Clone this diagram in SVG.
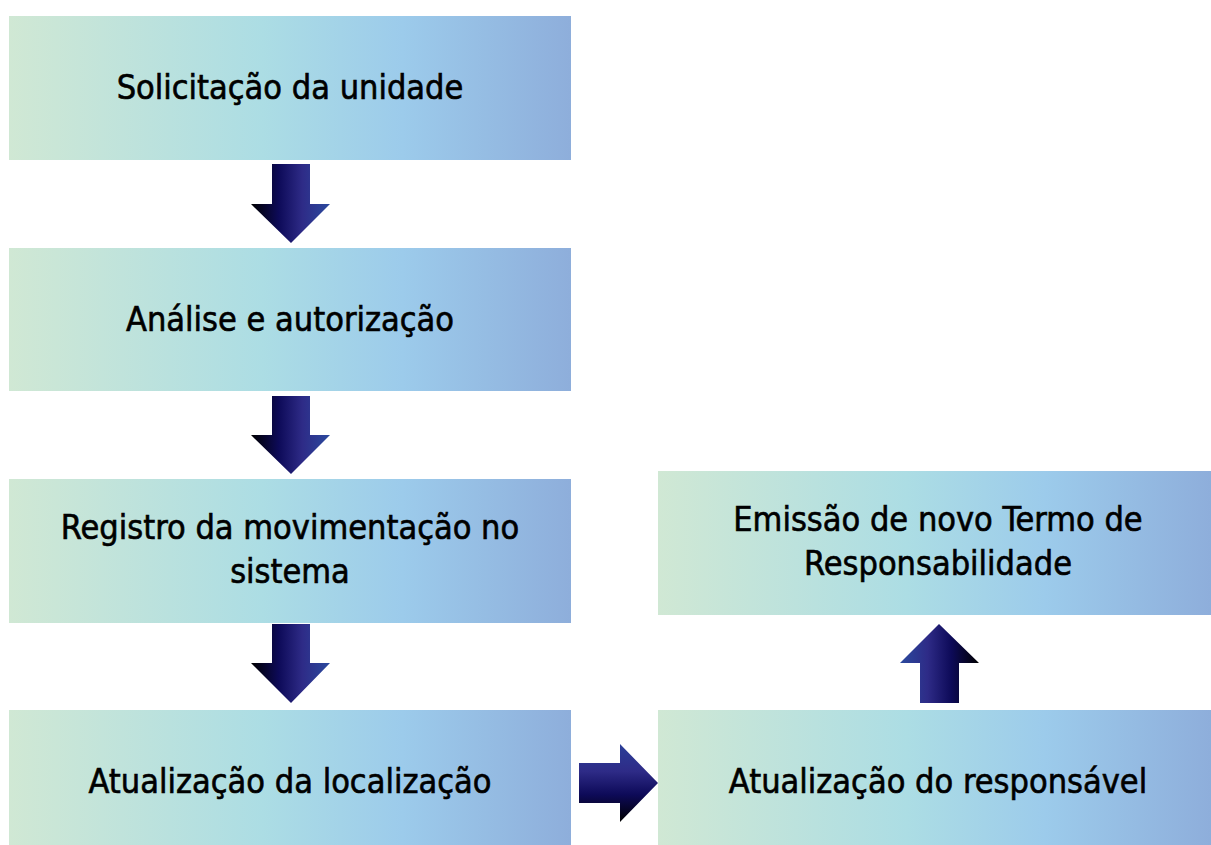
<svg xmlns="http://www.w3.org/2000/svg" width="1211" height="845" viewBox="0 0 1211 845">
<defs>
<linearGradient id="box" x1="0" y1="0" x2="1" y2="0">
<stop offset="0" stop-color="#d0e8d4"/>
<stop offset="0.45" stop-color="#acdde4"/>
<stop offset="0.7" stop-color="#9ccbeb"/>
<stop offset="1" stop-color="#8eaedb"/>
</linearGradient>
<linearGradient id="ad" x1="0" y1="0" x2="1" y2="0">
<stop offset="0" stop-color="#000000"/>
<stop offset="0.35" stop-color="#0d0a58"/>
<stop offset="0.65" stop-color="#2e2b87"/>
<stop offset="1" stop-color="#2b4a9e"/>
</linearGradient>
<linearGradient id="au" x1="1" y1="0" x2="0" y2="0">
<stop offset="0" stop-color="#000000"/>
<stop offset="0.35" stop-color="#0d0a58"/>
<stop offset="0.65" stop-color="#2e2b87"/>
<stop offset="1" stop-color="#2b4a9e"/>
</linearGradient>
<linearGradient id="ar" x1="0" y1="1" x2="0" y2="0">
<stop offset="0" stop-color="#000000"/>
<stop offset="0.35" stop-color="#0d0a58"/>
<stop offset="0.65" stop-color="#2e2b87"/>
<stop offset="1" stop-color="#2b3f98"/>
</linearGradient>
</defs>
<style>
.b{fill:url(#box)}
.t{font-family:"DejaVu Sans Condensed","DejaVu Sans",sans-serif;font-size:34px;fill:#000;stroke:#000;stroke-width:0.6;text-anchor:middle}
</style>
<rect width="1211" height="845" fill="#fff"/>
<g id="connectors">
<polygon points="272,164 310,164 310,204 330,204 291,243 251,204 272,204" fill="url(#ad)"/>
<polygon points="272,396 310,396 310,435 330,435 291,474 251,435 272,435" fill="url(#ad)"/>
<polygon points="272,624 310,624 310,663 330,663 291,703 251,663 272,663" fill="url(#ad)"/>
<polygon points="579,763 620,763 620,744 658,783 620,822 620,803 579,803" fill="url(#ar)"/>
<polygon points="920,703 959,703 959,663 979,663 939,624 900,663 920,663" fill="url(#au)"/>
</g>
<g id="n1"><rect class="b" x="9" y="16" width="562" height="144"/><text class="t" x="290" y="99">Solicitação da unidade</text></g>
<g id="n2"><rect class="b" x="9" y="248" width="562" height="143"/><text class="t" x="290" y="331">Análise e autorização</text></g>
<g id="n3"><rect class="b" x="9" y="479" width="562" height="144"/><text class="t" x="290" y="539">Registro da movimentação no</text><text class="t" x="290" y="583">sistema</text></g>
<g id="n4"><rect class="b" x="9" y="710" width="562" height="135"/><text class="t" x="290" y="793">Atualização da localização</text></g>
<g id="n5"><rect class="b" x="658" y="710" width="553" height="135"/><text class="t" x="938" y="793">Atualização do responsável</text></g>
<g id="n6"><rect class="b" x="658" y="471" width="553" height="144"/><text class="t" x="938" y="531">Emissão de novo Termo de</text><text class="t" x="938" y="575">Responsabilidade</text></g>
</svg>
